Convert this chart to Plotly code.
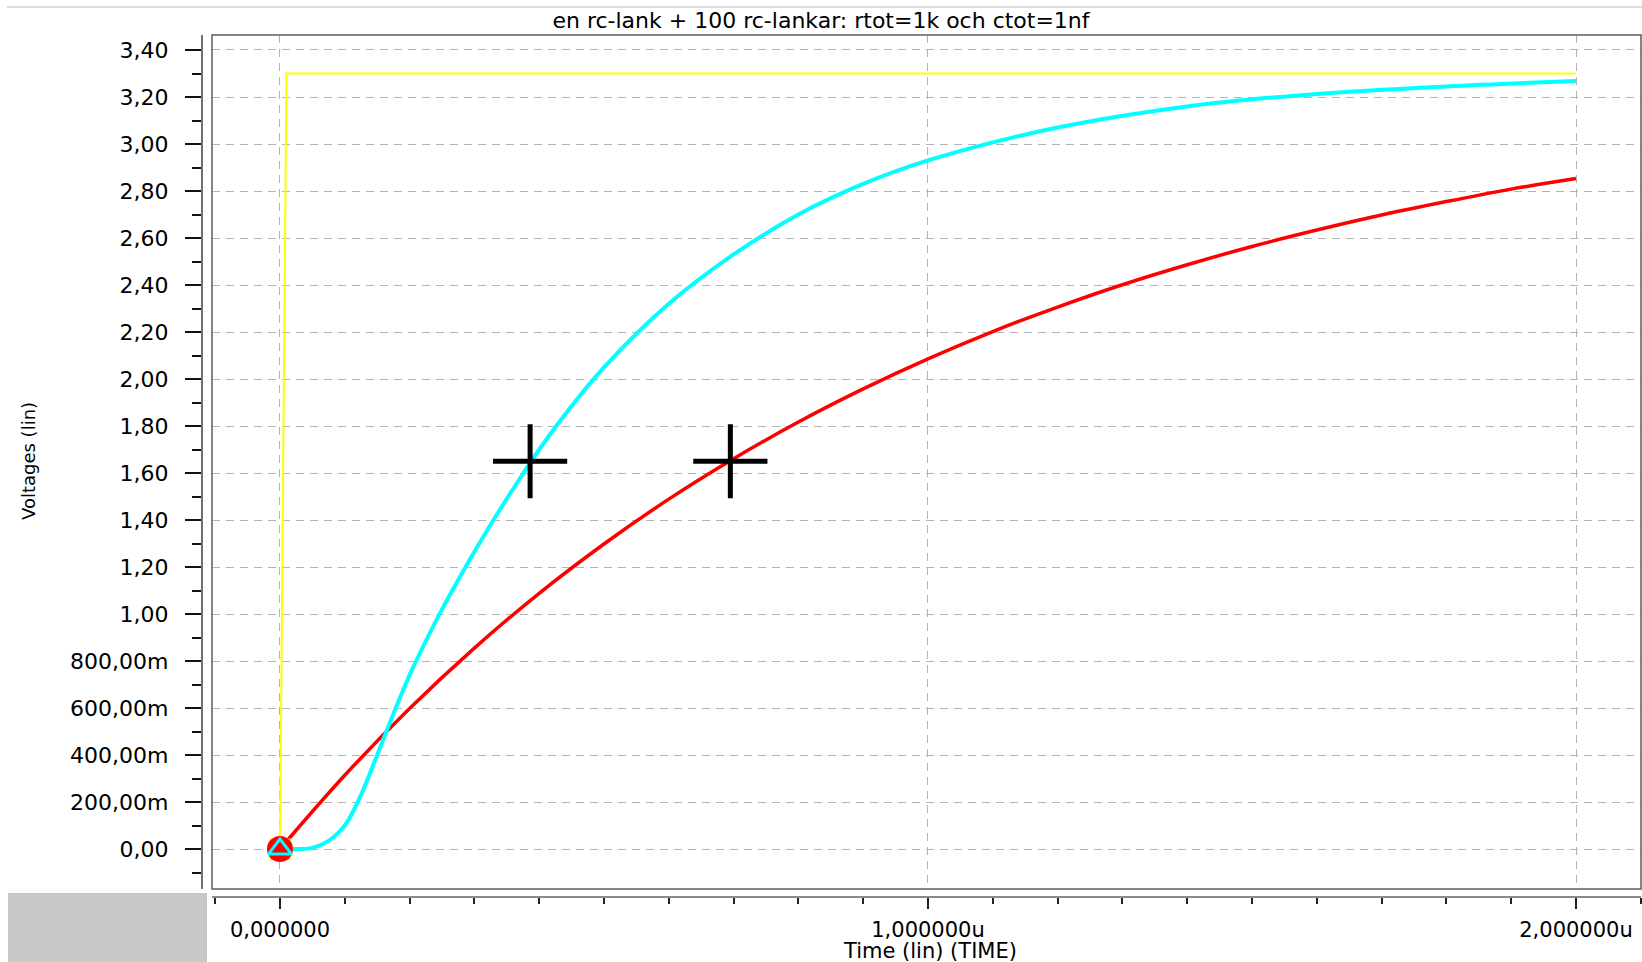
import plotly.graph_objects as go

# ---------------- data (time in µs, voltage in V) ----------------
src_t = [0.0, 0.01, 2.0]
src_v = [0.0, 3.30, 3.30]

red_t = [0.0, 0.1, 0.2, 0.3, 0.4, 0.5, 0.6, 0.7, 0.8, 0.9, 1.0,
         1.1, 1.2, 1.3, 1.4, 1.5, 1.6, 1.7, 1.8, 1.9, 2.0]
red_v = [0.0, 0.314, 0.598, 0.855, 1.088, 1.298, 1.489, 1.661, 1.817, 1.958, 2.086,
         2.202, 2.306, 2.401, 2.486, 2.564, 2.634, 2.698, 2.755, 2.808, 2.853]

cyan_t = [0.0, 0.025, 0.05, 0.075, 0.10, 0.125, 0.15, 0.175, 0.20, 0.225,
          0.25, 0.275, 0.30, 0.325, 0.35, 0.375, 0.40, 0.45, 0.50, 0.60,
          0.70, 0.80, 0.90, 1.00, 1.20, 1.40, 1.60, 1.80, 2.00]
cyan_v = [0.0, 0.0, 0.005, 0.035, 0.10, 0.23, 0.40, 0.575, 0.74, 0.885,
          1.02, 1.145, 1.265, 1.38, 1.49, 1.597, 1.70, 1.885, 2.05, 2.32,
          2.53, 2.70, 2.83, 2.93, 3.07, 3.16, 3.213, 3.245, 3.268]

cursor_t = [0.386, 0.695]
cursor_v = [1.65, 1.65]

x_tick_vals = [0.0, 1.0, 2.0]
x_tick_text = ["0,000000", "1,000000u", "2,000000u"]

y_tick_vals = [0.0, 0.2, 0.4, 0.6, 0.8, 1.0, 1.2, 1.4, 1.6, 1.8, 2.0, 2.2,
               2.4, 2.6, 2.8, 3.0, 3.2, 3.4]
y_tick_text = ["0,00", "200,00m", "400,00m", "600,00m", "800,00m", "1,00",
               "1,20", "1,40", "1,60", "1,80", "2,00", "2,20", "2,40", "2,60",
               "2,80", "3,00", "3,20", "3,40"]

title_text = "en rc-lank + 100 rc-lankar: rtot=1k och ctot=1nf"
x_title = "Time (lin) (TIME)"
y_title = "Voltages (lin)"

# ---------------- layout geometry (pixels) ----------------
W, H = 1642, 962
L, R, T, B = 202, 1, 35, 65
PW = W - L - R
PH = H - T - B


def px(x):
    return (x - L) / PW


def py(y):
    return (H - B - y) / PH


FONT = "DejaVu Sans"
GRID = "#b4b4b4"

fig = go.Figure()

fig.add_trace(go.Scatter(x=src_t, y=src_v, mode="lines",
                         line=dict(color="#ffff00", width=2), showlegend=False))
fig.add_trace(go.Scatter(x=red_t, y=red_v, mode="lines",
                         line=dict(color="#ff0000", width=3.5, shape="spline", smoothing=1.0),
                         showlegend=False))
fig.add_trace(go.Scatter(x=cyan_t, y=cyan_v, mode="lines",
                         line=dict(color="#00ffff", width=4, shape="spline", smoothing=1.0),
                         showlegend=False))

# start markers
fig.add_trace(go.Scatter(x=src_t[:1], y=src_v[:1], mode="markers",
                         marker=dict(symbol="square", size=21, color="#ffff00"),
                         showlegend=False))
fig.add_trace(go.Scatter(x=red_t[:1], y=red_v[:1], mode="markers",
                         marker=dict(symbol="circle", size=26, color="#ff0000"),
                         showlegend=False))
fig.add_trace(go.Scatter(x=cyan_t[:1], y=cyan_v[:1], mode="markers",
                         marker=dict(symbol="triangle-up-open", size=20, color="#00ffff",
                                     line=dict(width=3, color="#00ffff")),
                         showlegend=False))

# cursors
fig.add_trace(go.Scatter(x=cursor_t, y=cursor_v, mode="markers",
                         marker=dict(symbol="cross-thin", size=53,
                                     line=dict(width=5, color="black")),
                         showlegend=False))

fig.update_layout(
    width=W, height=H, autosize=False,
    margin=dict(l=L, r=R, t=T, b=B, pad=0),
    paper_bgcolor="white", plot_bgcolor="white",
    font=dict(family=FONT, size=21, color="black"),
    title=dict(text=title_text, x=0.5, xref="container", xanchor="center",
               y=1 - 20 / H, yref="container", yanchor="middle",
               font=dict(family=FONT, size=22, color="black")),
    xaxis=dict(
        domain=[px(212), 1], anchor="free", position=0,
        range=[-0.1049, 2.1003],
        showline=True, linecolor="#8a8a8a", linewidth=2,
        ticks="outside", ticklen=11, tickwidth=1.5, tickcolor="#222222",
        tickmode="array", tickvals=x_tick_vals, ticktext=x_tick_text,
        ticklabelstandoff=3,
        showgrid=True, gridcolor=GRID, griddash="8px,6px", gridwidth=1,
        zeroline=False,
        minor=dict(tickmode="linear", tick0=0, dtick=0.1, ticks="outside",
                   ticklen=6, tickwidth=1.5, tickcolor="#222222", showgrid=False),
        tickfont=dict(family=FONT, size=21, color="black"),
    ),
    yaxis=dict(
        domain=[py(889), 1], anchor="free", position=0,
        range=[-0.170, 3.4638],
        showline=True, linecolor="#707070", linewidth=2.2,
        ticks="outside", ticklen=16, tickwidth=1.5, tickcolor="#111111",
        tickmode="array", tickvals=y_tick_vals, ticktext=y_tick_text,
        ticklabelstandoff=12,
        showgrid=True, gridcolor=GRID, griddash="8px,6px", gridwidth=1,
        zeroline=False,
        minor=dict(tickmode="linear", tick0=0, dtick=0.1, ticks="outside",
                   ticklen=9, tickwidth=1.5, tickcolor="#111111", showgrid=False),
        tickfont=dict(family=FONT, size=22, color="black"),
    ),
    shapes=[
        # plot frame
        dict(type="rect", xref="x domain", yref="y domain", x0=0, x1=1, y0=0, y1=1,
             line=dict(color="#5c5c5c", width=1.5), layer="above"),
        # top thin separator line
        dict(type="line", xref="paper", yref="paper", x0=px(7), x1=px(1642),
             y0=py(7), y1=py(7), line=dict(color="#d0d0d0", width=1.5)),
        # grey box in lower-left corner
        dict(type="rect", xref="paper", yref="paper", x0=px(8), x1=px(207),
             y0=py(962), y1=py(893), fillcolor="#c8c8c8", line=dict(width=0)),
    ],
    annotations=[
        dict(text=x_title, xref="paper", yref="paper", x=px(930), y=py(951),
             xanchor="center", yanchor="middle", showarrow=False,
             font=dict(family=FONT, size=21, color="black")),
        dict(text=y_title, xref="paper", yref="paper", x=px(28), y=py(461),
             xanchor="center", yanchor="middle", showarrow=False, textangle=-90,
             font=dict(family=FONT, size=18, color="black")),
    ],
)

fig.write_html("out.html")
